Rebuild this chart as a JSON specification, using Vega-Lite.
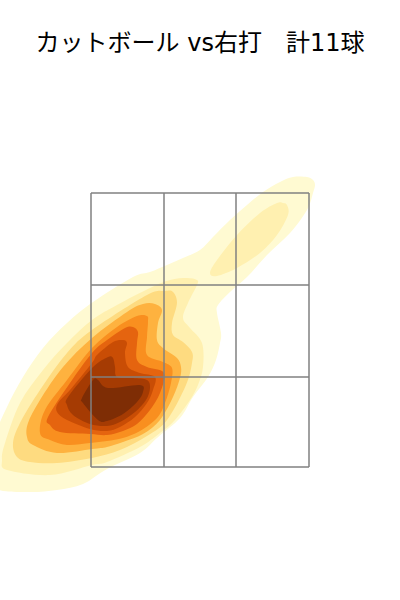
{"$schema":"https://vega.github.io/schema/vega-lite/v6.json","width":400,"height":600,"padding":0,"autosize":{"type":"none"},"background":"white","title":{"text":"カットボール vs右打　計11球","font":"DejaVu Sans, Noto Sans CJK JP","fontSize":24,"fontWeight":"normal","color":"#000000","anchor":"middle","offset":-56},"view":{"stroke":null},"datasets":{"contours":[
{"r":"1","l":1,"n":0,"x":57.5,"y":207.5},{"r":"1","l":1,"n":1,"x":56.5,"y":210},{"r":"1","l":1,"n":2,"x":53.5,"y":211.5},{"r":"1","l":1,"n":3,"x":46.5,"y":211.5},{"r":"1","l":1,"n":4,"x":40,"y":209},{"r":"1","l":1,"n":5,"x":31.5,"y":204},{"r":"1","l":1,"n":6,"x":23.5,"y":197.5},{"r":"1","l":1,"n":7,"x":15,"y":190},{"r":"1","l":1,"n":8,"x":6.5,"y":181.5},{"r":"1","l":1,"n":9,"x":0,"y":175},{"r":"1","l":1,"n":10,"x":-8.5,"y":171},{"r":"1","l":1,"n":11,"x":-16.5,"y":167.5},{"r":"1","l":1,"n":12,"x":-25,"y":164},{"r":"1","l":1,"n":13,"x":-33.5,"y":161.5},{"r":"1","l":1,"n":14,"x":-53.5,"y":149},{"r":"1","l":1,"n":15,"x":-66.5,"y":138.5},{"r":"1","l":1,"n":16,"x":-78.5,"y":126},{"r":"1","l":1,"n":17,"x":-88.5,"y":111.5},{"r":"1","l":1,"n":18,"x":-96.5,"y":96.5},{"r":"1","l":1,"n":19,"x":-102.5,"y":82.5},{"r":"1","l":1,"n":20,"x":-106,"y":67.5},{"r":"1","l":1,"n":21,"x":-102.5,"y":56},{"r":"1","l":1,"n":22,"x":-86.5,"y":54},{"r":"1","l":1,"n":23,"x":-71.5,"y":55},{"r":"1","l":1,"n":24,"x":-58.5,"y":58},{"r":"1","l":1,"n":25,"x":-46.5,"y":65.5},{"r":"1","l":1,"n":26,"x":-30,"y":73.5},{"r":"1","l":1,"n":27,"x":-21.5,"y":81},{"r":"1","l":1,"n":28,"x":-10,"y":91},{"r":"1","l":1,"n":29,"x":-3.5,"y":101.5},{"r":"1","l":1,"n":30,"x":4,"y":111.5},{"r":"1","l":1,"n":31,"x":8,"y":120},{"r":"1","l":1,"n":32,"x":10,"y":128.5},{"r":"1","l":1,"n":33,"x":10.5,"y":133.5},{"r":"1","l":1,"n":34,"x":8.5,"y":143.5},{"r":"1","l":1,"n":35,"x":9,"y":147.5},{"r":"1","l":1,"n":36,"x":15,"y":154},{"r":"1","l":1,"n":37,"x":23.5,"y":161.5},{"r":"1","l":1,"n":38,"x":33.5,"y":172.5},{"r":"1","l":1,"n":39,"x":45,"y":183.5},{"r":"1","l":1,"n":40,"x":53.5,"y":195},{"r":"1","l":1,"n":41,"x":56.5,"y":203.5},
{"r":"2","l":2,"n":0,"x":-1.5,"y":160},{"r":"2","l":2,"n":1,"x":-6.5,"y":161},{"r":"2","l":2,"n":2,"x":-15,"y":160},{"r":"2","l":2,"n":3,"x":-25,"y":156},{"r":"2","l":2,"n":4,"x":-41.5,"y":147.5},{"r":"2","l":2,"n":5,"x":-54,"y":140},{"r":"2","l":2,"n":6,"x":-66.5,"y":128.5},{"r":"2","l":2,"n":7,"x":-78.5,"y":115},{"r":"2","l":2,"n":8,"x":-90,"y":98.5},{"r":"2","l":2,"n":9,"x":-97.5,"y":78.5},{"r":"2","l":2,"n":10,"x":-99,"y":70},{"r":"2","l":2,"n":11,"x":-96.5,"y":65},{"r":"2","l":2,"n":12,"x":-75,"y":62.5},{"r":"2","l":2,"n":13,"x":-54,"y":67.5},{"r":"2","l":2,"n":14,"x":-46.5,"y":69},{"r":"2","l":2,"n":15,"x":-30,"y":76.5},{"r":"2","l":2,"n":16,"x":-20,"y":83.5},{"r":"2","l":2,"n":17,"x":-12.5,"y":90},{"r":"2","l":2,"n":18,"x":-5,"y":100},{"r":"2","l":2,"n":19,"x":-1,"y":107.5},{"r":"2","l":2,"n":20,"x":1.5,"y":116.5},{"r":"2","l":2,"n":21,"x":1,"y":128.5},{"r":"2","l":2,"n":22,"x":-5,"y":136},{"r":"2","l":2,"n":23,"x":-8.5,"y":141},{"r":"2","l":2,"n":24,"x":-6,"y":148.5},{"r":"2","l":2,"n":25,"x":-1.5,"y":157.5},
{"r":"2b","l":2,"n":0,"x":41.5,"y":198.5},{"r":"2b","l":2,"n":1,"x":43.5,"y":197.5},{"r":"2b","l":2,"n":2,"x":44,"y":192.5},{"r":"2b","l":2,"n":3,"x":38.5,"y":182.5},{"r":"2b","l":2,"n":4,"x":30,"y":173.5},{"r":"2b","l":2,"n":5,"x":18.5,"y":166},{"r":"2b","l":2,"n":6,"x":8.5,"y":162},{"r":"2b","l":2,"n":7,"x":5,"y":163.5},{"r":"2b","l":2,"n":8,"x":8.5,"y":170},{"r":"2b","l":2,"n":9,"x":18.5,"y":182.5},{"r":"2b","l":2,"n":10,"x":30,"y":193.5},{"r":"2b","l":2,"n":11,"x":38.5,"y":198.5},
{"r":"3","l":3,"n":0,"x":-13.5,"y":154},{"r":"3","l":3,"n":1,"x":-17.5,"y":154.5},{"r":"3","l":3,"n":2,"x":-26.5,"y":152.5},{"r":"3","l":3,"n":3,"x":-54,"y":135},{"r":"3","l":3,"n":4,"x":-66.5,"y":123.5},{"r":"3","l":3,"n":5,"x":-80,"y":105},{"r":"3","l":3,"n":6,"x":-90,"y":88.5},{"r":"3","l":3,"n":7,"x":-93.5,"y":78.5},{"r":"3","l":3,"n":8,"x":-91.5,"y":71.5},{"r":"3","l":3,"n":9,"x":-85,"y":69},{"r":"3","l":3,"n":10,"x":-71.5,"y":68.5},{"r":"3","l":3,"n":11,"x":-54,"y":71},{"r":"3","l":3,"n":12,"x":-40,"y":75},{"r":"3","l":3,"n":13,"x":-26.5,"y":82},{"r":"3","l":3,"n":14,"x":-16.5,"y":90},{"r":"3","l":3,"n":15,"x":-7,"y":107.5},{"r":"3","l":3,"n":16,"x":-4,"y":118.5},{"r":"3","l":3,"n":17,"x":-4,"y":124},{"r":"3","l":3,"n":18,"x":-8.5,"y":129},{"r":"3","l":3,"n":19,"x":-13.5,"y":132.5},{"r":"3","l":3,"n":20,"x":-14,"y":138.5},{"r":"3","l":3,"n":21,"x":-11.5,"y":148.5},
{"r":"4","l":4,"n":0,"x":-22.5,"y":148},{"r":"4","l":4,"n":1,"x":-28.5,"y":148},{"r":"4","l":4,"n":2,"x":-36.5,"y":144},{"r":"4","l":4,"n":3,"x":-54,"y":131},{"r":"4","l":4,"n":4,"x":-68.5,"y":116.5},{"r":"4","l":4,"n":5,"x":-80,"y":100},{"r":"4","l":4,"n":6,"x":-86,"y":88.5},{"r":"4","l":4,"n":7,"x":-86.5,"y":81.5},{"r":"4","l":4,"n":8,"x":-83.5,"y":77.5},{"r":"4","l":4,"n":9,"x":-71.5,"y":73.5},{"r":"4","l":4,"n":10,"x":-54,"y":75.5},{"r":"4","l":4,"n":11,"x":-46.5,"y":76.5},{"r":"4","l":4,"n":12,"x":-38.5,"y":79},{"r":"4","l":4,"n":13,"x":-28.5,"y":83},{"r":"4","l":4,"n":14,"x":-20,"y":90},{"r":"4","l":4,"n":15,"x":-13.5,"y":101.5},{"r":"4","l":4,"n":16,"x":-10,"y":111},{"r":"4","l":4,"n":17,"x":-9.5,"y":116.5},{"r":"4","l":4,"n":18,"x":-11.5,"y":121},{"r":"4","l":4,"n":19,"x":-18.5,"y":126},{"r":"4","l":4,"n":20,"x":-21.5,"y":130},{"r":"4","l":4,"n":21,"x":-21,"y":138.5},{"r":"4","l":4,"n":22,"x":-19,"y":145},
{"r":"5","l":5,"n":0,"x":-26.5,"y":142},{"r":"5","l":5,"n":1,"x":-31.5,"y":142},{"r":"5","l":5,"n":2,"x":-41.5,"y":136.5},{"r":"5","l":5,"n":3,"x":-54,"y":126},{"r":"5","l":5,"n":4,"x":-66.5,"y":110},{"r":"5","l":5,"n":5,"x":-77.5,"y":95},{"r":"5","l":5,"n":6,"x":-80,"y":83.5},{"r":"5","l":5,"n":7,"x":-75,"y":80},{"r":"5","l":5,"n":8,"x":-66.5,"y":77.5},{"r":"5","l":5,"n":9,"x":-55,"y":78.5},{"r":"5","l":5,"n":10,"x":-46.5,"y":79.5},{"r":"5","l":5,"n":11,"x":-38.5,"y":81},{"r":"5","l":5,"n":12,"x":-30,"y":84.5},{"r":"5","l":5,"n":13,"x":-21.5,"y":91},{"r":"5","l":5,"n":14,"x":-17.5,"y":98.5},{"r":"5","l":5,"n":15,"x":-14.5,"y":108.5},{"r":"5","l":5,"n":16,"x":-14,"y":116},{"r":"5","l":5,"n":17,"x":-18.5,"y":119},{"r":"5","l":5,"n":18,"x":-26.5,"y":122.5},{"r":"5","l":5,"n":19,"x":-26.5,"y":131.5},{"r":"5","l":5,"n":20,"x":-26,"y":139},
{"r":"6","l":6,"n":0,"x":-33.5,"y":136.5},{"r":"6","l":6,"n":1,"x":-37.5,"y":136},{"r":"6","l":6,"n":2,"x":-46.5,"y":130},{"r":"6","l":6,"n":3,"x":-54,"y":123.5},{"r":"6","l":6,"n":4,"x":-65,"y":108.5},{"r":"6","l":6,"n":5,"x":-76,"y":91.5},{"r":"6","l":6,"n":6,"x":-75,"y":87.5},{"r":"6","l":6,"n":7,"x":-70,"y":84},{"r":"6","l":6,"n":8,"x":-55,"y":83},{"r":"6","l":6,"n":9,"x":-46.5,"y":82.5},{"r":"6","l":6,"n":10,"x":-38.5,"y":84.5},{"r":"6","l":6,"n":11,"x":-31.5,"y":88},{"r":"6","l":6,"n":12,"x":-25,"y":95},{"r":"6","l":6,"n":13,"x":-20,"y":103.5},{"r":"6","l":6,"n":14,"x":-18,"y":113.5},{"r":"6","l":6,"n":15,"x":-26.5,"y":116.5},{"r":"6","l":6,"n":16,"x":-31.5,"y":120},{"r":"6","l":6,"n":17,"x":-31.5,"y":128.5},{"r":"6","l":6,"n":18,"x":-31,"y":134},
{"r":"7","l":7,"n":0,"x":-38.5,"y":130},{"r":"7","l":7,"n":1,"x":-43.5,"y":129},{"r":"7","l":7,"n":2,"x":-51.5,"y":122.5},{"r":"7","l":7,"n":3,"x":-54,"y":118.5},{"r":"7","l":7,"n":4,"x":-65,"y":105},{"r":"7","l":7,"n":5,"x":-71,"y":98.5},{"r":"7","l":7,"n":6,"x":-71.5,"y":94},{"r":"7","l":7,"n":7,"x":-66.5,"y":90},{"r":"7","l":7,"n":8,"x":-55,"y":85.5},{"r":"7","l":7,"n":9,"x":-46.5,"y":84.5},{"r":"7","l":7,"n":10,"x":-40,"y":86.5},{"r":"7","l":7,"n":11,"x":-32.5,"y":91.5},{"r":"7","l":7,"n":12,"x":-26.5,"y":98.5},{"r":"7","l":7,"n":13,"x":-23.5,"y":105},{"r":"7","l":7,"n":14,"x":-22.5,"y":111.5},{"r":"7","l":7,"n":15,"x":-30,"y":113.5},{"r":"7","l":7,"n":16,"x":-36,"y":116.5},{"r":"7","l":7,"n":17,"x":-37.5,"y":123.5},{"r":"7","l":7,"n":18,"x":-36.5,"y":128.5},
{"r":"8","l":8,"n":0,"x":-46,"y":121.5},{"r":"8","l":8,"n":1,"x":-54,"y":116},{"r":"8","l":8,"n":2,"x":-66,"y":101.5},{"r":"8","l":8,"n":3,"x":-66.5,"y":97.5},{"r":"8","l":8,"n":4,"x":-63.5,"y":92.5},{"r":"8","l":8,"n":5,"x":-55,"y":88},{"r":"8","l":8,"n":6,"x":-46.5,"y":87},{"r":"8","l":8,"n":7,"x":-40,"y":89},{"r":"8","l":8,"n":8,"x":-32.5,"y":94},{"r":"8","l":8,"n":9,"x":-27,"y":100},{"r":"8","l":8,"n":10,"x":-25,"y":106},{"r":"8","l":8,"n":11,"x":-26.5,"y":110},{"r":"8","l":8,"n":12,"x":-33.5,"y":111},{"r":"8","l":8,"n":13,"x":-41.5,"y":111.5},{"r":"8","l":8,"n":14,"x":-42.5,"y":116.5},{"r":"8","l":8,"n":15,"x":-43.5,"y":121},
{"r":"9","l":9,"n":0,"x":-53.5,"y":110},{"r":"9","l":9,"n":1,"x":-51,"y":110},{"r":"9","l":9,"n":2,"x":-46,"y":106},{"r":"9","l":9,"n":3,"x":-30,"y":107.5},{"r":"9","l":9,"n":4,"x":-28.5,"y":104},{"r":"9","l":9,"n":5,"x":-31.5,"y":99},{"r":"9","l":9,"n":6,"x":-38.5,"y":93},{"r":"9","l":9,"n":7,"x":-46.5,"y":89.5},{"r":"9","l":9,"n":8,"x":-51,"y":90},{"r":"9","l":9,"n":9,"x":-58.5,"y":98.5},{"r":"9","l":9,"n":10,"x":-59,"y":101}
],"grid":[
{"x":-54.5,"x2":-54.5,"y":66.5,"y2":203.5},{"x":-18,"x2":-18,"y":66.5,"y2":203.5},{"x":18,"x2":18,"y":66.5,"y2":203.5},{"x":54.5,"x2":54.5,"y":66.5,"y2":203.5},
{"x":-54.5,"x2":54.5,"y":203.5,"y2":203.5},{"x":-54.5,"x2":54.5,"y":157.5,"y2":157.5},{"x":-54.5,"x2":54.5,"y":111.5,"y2":111.5},{"x":-54.5,"x2":54.5,"y":66.5,"y2":66.5}
]},"layer":[
{"data":{"name":"contours"},"mark":{"type":"line","interpolate":"cardinal-closed","strokeWidth":0,"clip":true},"encoding":{"x":{"field":"x","type":"quantitative","scale":{"domain":[-100,100],"nice":false,"zero":false},"axis":null},"y":{"field":"y","type":"quantitative","scale":{"domain":[0,300],"nice":false,"zero":false},"axis":null},"detail":{"field":"r"},"order":{"field":"n","type":"quantitative"},"fill":{"field":"l","type":"ordinal","legend":null,"scale":{"domain":[1,2,3,4,5,6,7,8,9],"range":["#FFFAD2","#FFF0B0","#FEDB80","#FEB23F","#F98F1F","#E5640F","#C94D05","#A53B03","#7E2D05"]}}}},
{"data":{"name":"grid"},"mark":{"type":"rule","color":"#808080","strokeWidth":1.5},"encoding":{"x":{"field":"x","type":"quantitative","axis":null},"x2":{"field":"x2"},"y":{"field":"y","type":"quantitative","axis":null},"y2":{"field":"y2"}}}
]}
